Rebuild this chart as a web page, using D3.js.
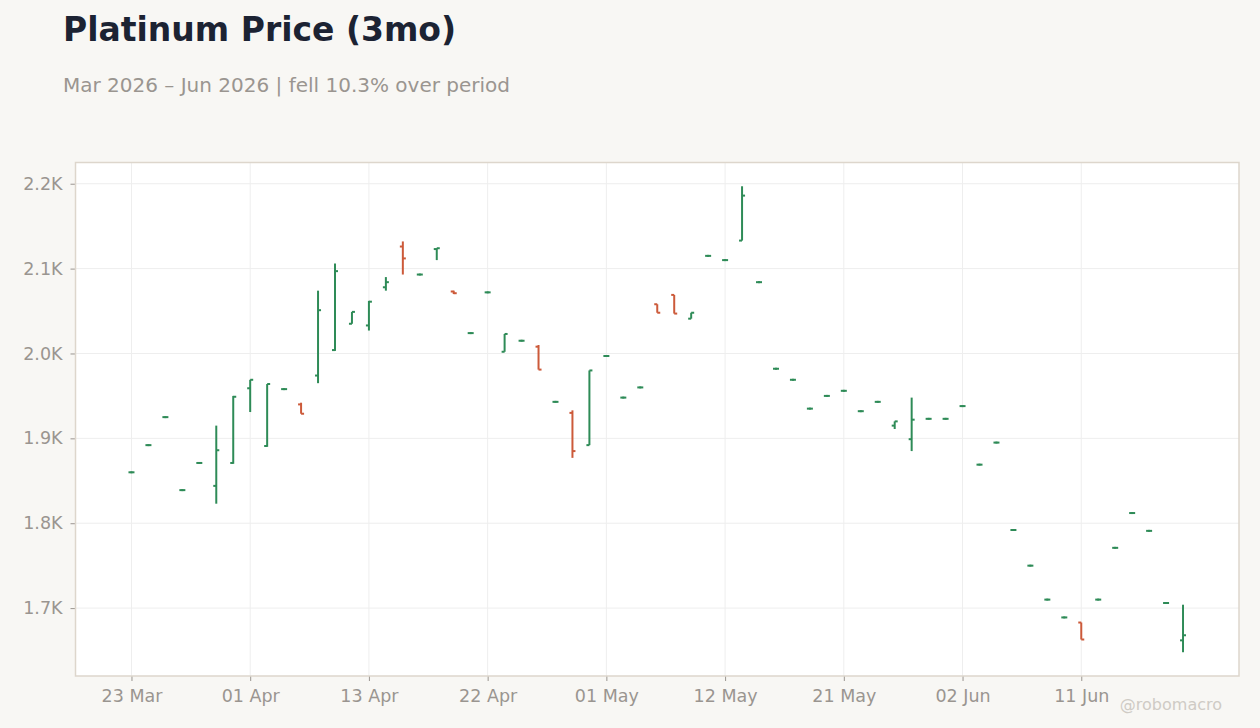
<!DOCTYPE html>
<html lang="en">
<head>
    <meta charset="UTF-8">
    <title>Platinum Price (3mo)</title>
    <script src="https://d3js.org/d3.v7.min.js" charset="utf-8"></script>
    <style>
        body { margin: 0; background: #f8f7f4; }
        text { font-family: "DejaVu Sans", sans-serif; }
    </style>
</head>
<body>
    <div id="vis"></div>

    <script>

        // trading days, Mar 23 -> Jun 22 2026 (Good Friday, Memorial Day, Juneteenth closed)
        var dates = [
            "2026-03-23", "2026-03-24", "2026-03-25", "2026-03-26", "2026-03-27", "2026-03-30", "2026-03-31",
            "2026-04-01", "2026-04-02", "2026-04-06", "2026-04-07", "2026-04-08", "2026-04-09", "2026-04-10",
            "2026-04-13", "2026-04-14", "2026-04-15", "2026-04-16", "2026-04-17", "2026-04-20", "2026-04-21",
            "2026-04-22", "2026-04-23", "2026-04-24", "2026-04-27", "2026-04-28", "2026-04-29", "2026-04-30",
            "2026-05-01", "2026-05-04", "2026-05-05", "2026-05-06", "2026-05-07", "2026-05-08", "2026-05-11",
            "2026-05-12", "2026-05-13", "2026-05-14", "2026-05-15", "2026-05-18", "2026-05-19", "2026-05-20",
            "2026-05-21", "2026-05-22", "2026-05-26", "2026-05-27", "2026-05-28", "2026-05-29", "2026-06-01",
            "2026-06-02", "2026-06-03", "2026-06-04", "2026-06-05", "2026-06-08", "2026-06-09", "2026-06-10",
            "2026-06-11", "2026-06-12", "2026-06-15", "2026-06-16", "2026-06-17", "2026-06-18", "2026-06-22"
        ];

        var open = [
            1860, 1892, 1925, 1839, 1871, 1844, 1871, 1959, 1891, 1958,
            1940, 1974, 2004, 2035, 2033, 2078, 2126, 2093, 2123, 2073,
            2024, 2072, 2002, 2015, 2008, 1943, 1930, 1892, 1997, 1948,
            1960, 2058, 2069, 2041, 2115, 2110, 2133, 2084, 1982, 1969,
            1935, 1950, 1956, 1932, 1943, 1915, 1899, 1923, 1923, 1938,
            1869, 1895, 1792, 1750, 1710, 1689, 1683, 1710, 1771, 1812,
            1791, 1706, 1662
        ];

        var high = [
            1860, 1892, 1925, 1839, 1871, 1915, 1950, 1969, 1964, 1958,
            1942, 2074, 2106, 2049, 2062, 2090, 2132, 2093, 2124, 2074,
            2024, 2072, 2023, 2015, 2010, 1943, 1933, 1980, 1997, 1948,
            1960, 2058, 2069, 2048, 2115, 2110, 2197, 2084, 1982, 1969,
            1935, 1950, 1956, 1932, 1943, 1920, 1948, 1923, 1923, 1938,
            1869, 1895, 1792, 1750, 1710, 1689, 1683, 1710, 1771, 1812,
            1791, 1706, 1704
        ];

        var low = [
            1860, 1892, 1925, 1839, 1871, 1823, 1870, 1931, 1890, 1958,
            1929, 1965, 2003, 2035, 2027, 2074, 2093, 2093, 2110, 2070,
            2024, 2072, 2002, 2015, 1981, 1943, 1877, 1892, 1997, 1948,
            1960, 2048, 2047, 2041, 2115, 2110, 2133, 2084, 1982, 1969,
            1935, 1950, 1956, 1932, 1943, 1911, 1885, 1923, 1923, 1938,
            1869, 1895, 1792, 1750, 1710, 1689, 1663, 1710, 1771, 1812,
            1791, 1706, 1648
        ];

        var close = [
            1860, 1892, 1925, 1839, 1871, 1886, 1949, 1969, 1964, 1958,
            1929, 2051, 2097, 2049, 2061, 2084, 2112, 2093, 2124, 2071,
            2024, 2072, 2023, 2015, 1981, 1943, 1885, 1980, 1997, 1948,
            1960, 2048, 2047, 2048, 2115, 2110, 2186, 2084, 1982, 1969,
            1935, 1950, 1956, 1932, 1943, 1920, 1922, 1923, 1923, 1938,
            1869, 1895, 1792, 1750, 1710, 1689, 1663, 1710, 1771, 1812,
            1791, 1706, 1668
        ];

        var yTicks = [1700, 1800, 1900, 2000, 2100, 2200];

        var width = 1260;
        var height = 728;

        var margin = {
            top: 162.5,
            left: 75.5,
            right: 21,
            bottom: 52
        };

        var green = "#2e8b57";
        var red = "#cc5a3a";
        var tickLen = 3;

        var data = dates.map(function(d, i) {
            return { date: d3.timeParse("%Y-%m-%d")(d), o: open[i], h: high[i], l: low[i], c: close[i] };
        });

        var svg = d3.select("#vis")
            .append("svg")
              .attr("width", width)
              .attr("height", height);

        svg.append("rect")
            .attr("width", width)
            .attr("height", height)
            .attr("fill", "#f8f7f4");

        // title + subtitle
        svg.append("text")
            .attr("x", 63)
            .attr("y", 41)
            .attr("fill", "#1c2333")
            .style("font-size", "33px")
            .style("font-weight", "bold")
            .text("Platinum Price (3mo)");

        svg.append("text")
            .attr("x", 63)
            .attr("y", 92)
            .attr("fill", "#9a9590")
            .style("font-size", "20px")
            .text("Mar 2026 \u2013 Jun 2026 | fell 10.3% over period");

        var w = width - margin.left - margin.right;
        var h = height - margin.top - margin.bottom;

        var g = svg.append("g")
            .attr("transform", "translate(" + margin.left + "," + margin.top + ")");

        var x_scale = d3.scalePoint()
            .domain(d3.range(dates.length))
            .range([0, w])
            .padding(3.3);

        var y_scale = d3.scaleLinear()
            .domain([1620, 2225])
            .range([h, 0]);

        g.append("rect")
            .attr("width", w)
            .attr("height", h)
            .attr("fill", "#ffffff");

        // one x tick every 7 trading days
        var xTicks = d3.range(0, dates.length, 7);
        var fmtDate = d3.timeFormat("%d %b");

        // grid
        g.append("g")
            .selectAll("line")
            .data(yTicks)
            .enter()
            .append("line")
            .attr("x1", 0)
            .attr("x2", w)
            .attr("y1", function(d) { return y_scale(d); })
            .attr("y2", function(d) { return y_scale(d); })
            .attr("stroke", "#eeeeee")
            .attr("stroke-width", 1);

        g.append("g")
            .selectAll("line")
            .data(xTicks)
            .enter()
            .append("line")
            .attr("x1", function(d) { return x_scale(d); })
            .attr("x2", function(d) { return x_scale(d); })
            .attr("y1", 0)
            .attr("y2", h)
            .attr("stroke", "#eeeeee")
            .attr("stroke-width", 1);

        var x_axis = d3.axisBottom(x_scale)
            .tickValues(xTicks)
            .tickFormat(function(i) { return fmtDate(data[i].date); })
            .tickSize(5)
            .tickPadding(9);

        var y_axis = d3.axisLeft(y_scale)
            .tickValues(yTicks)
            .tickFormat(function(d) { return (d / 1000).toFixed(1) + "K"; })
            .tickSize(5)
            .tickPadding(8);

        g.append("g")
            .attr("class", "x axis")
            .attr("transform", "translate(0," + h + ")")
            .call(x_axis);

        g.append("g")
            .attr("class", "y axis")
            .call(y_axis);

        g.selectAll(".axis .domain").remove();
        g.selectAll(".axis line").attr("stroke", "#9a9590");
        g.selectAll(".axis text")
            .attr("fill", "#9a9590")
            .style("font-size", "17.5px")
            .style("font-family", "DejaVu Sans, sans-serif");

        // frame
        g.append("rect")
            .attr("width", w)
            .attr("height", h)
            .attr("fill", "none")
            .attr("stroke", "#ddd6cc")
            .attr("stroke-width", 1.5);

        // ohlc bars
        var bars = g.append("g")
            .selectAll(".bar")
            .data(data)
            .enter()
            .append("g")
            .attr("class", "bar")
            .attr("stroke", function(d) { return d.c >= d.o ? green : red; })
            .attr("stroke-width", 2);

        bars.append("line")
            .attr("x1", function(d, i) { return x_scale(i); })
            .attr("x2", function(d, i) { return x_scale(i); })
            .attr("y1", function(d) { return y_scale(d.h) - (d.h == d.l ? 1 : 0); })
            .attr("y2", function(d) { return y_scale(d.l) + (d.h == d.l ? 1 : 0); });

        bars.append("line")
            .attr("x1", function(d, i) { return x_scale(i) - tickLen; })
            .attr("x2", function(d, i) { return x_scale(i); })
            .attr("y1", function(d) { return y_scale(d.o); })
            .attr("y2", function(d) { return y_scale(d.o); });

        bars.append("line")
            .attr("x1", function(d, i) { return x_scale(i); })
            .attr("x2", function(d, i) { return x_scale(i) + tickLen; })
            .attr("y1", function(d) { return y_scale(d.c); })
            .attr("y2", function(d) { return y_scale(d.c); });

        // watermark
        svg.append("text")
            .attr("x", 1222)
            .attr("y", 710)
            .attr("text-anchor", "end")
            .attr("fill", "#cfcbc5")
            .style("font-size", "16px")
            .text("@robomacro");

    </script>
</body>
</html>
